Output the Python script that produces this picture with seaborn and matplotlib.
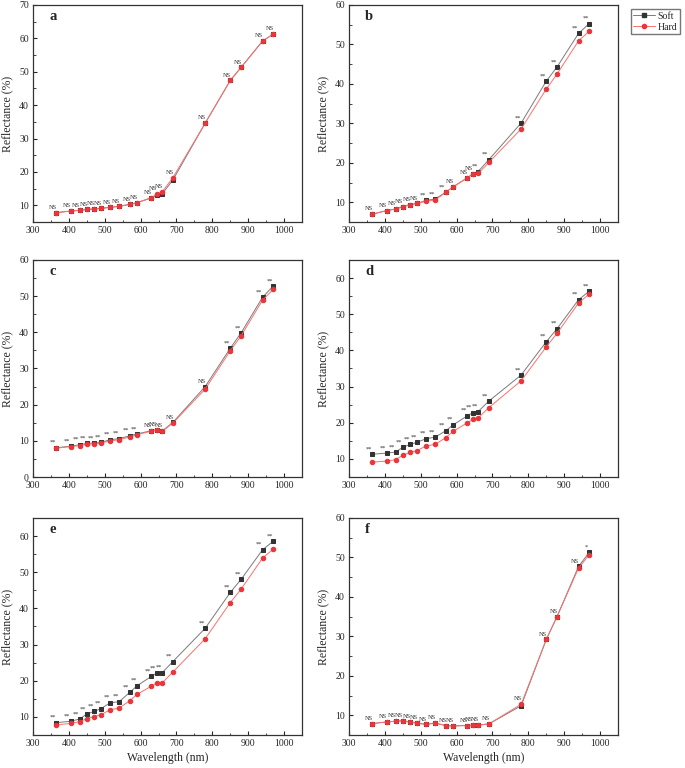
import numpy as np
import pandas as pd
import seaborn as sns
from matplotlib import pyplot as plt
from matplotlib.ticker import MultipleLocator
from matplotlib.lines import Line2D

sns.set_style("ticks")
plt.rcParams['font.family'] = ['Liberation Serif', 'DejaVu Serif']
plt.rcParams['xtick.direction'] = 'in'
plt.rcParams['ytick.direction'] = 'in'
plt.rcParams['axes.edgecolor'] = '#333333'

wavelength = [365, 405, 430, 450, 470, 490, 515, 540, 570, 590,
              630, 645, 660, 690, 780, 850, 880, 940, 970]

soft_a = [7.8, 8.3, 8.5, 8.8, 8.9, 9.1, 9.4, 9.7, 10.3, 10.8,
          12.2, 13.0, 13.4, 17.6, 34.6, 47.4, 51.3, 59.2, 61.3]
hard_a = [7.8, 8.3, 8.5, 8.8, 8.9, 9.1, 9.4, 9.7, 10.3, 10.8,
          12.3, 13.4, 14.0, 18.3, 34.6, 47.4, 51.3, 59.2, 61.3]
sig_a = ["NS"] * 19

soft_b = [7.0, 7.9, 8.3, 8.9, 9.4, 9.7, 10.5, 10.8, 12.6, 13.9,
          16.2, 17.2, 17.8, 20.8, 30.1, 40.7, 44.3, 52.8, 55.3]
hard_b = [7.0, 7.9, 8.3, 8.9, 9.4, 9.7, 10.3, 10.6, 12.5, 13.9,
          16.2, 17.2, 17.3, 20.1, 28.6, 38.7, 42.5, 50.9, 53.4]
sig_b = ["NS", "NS", "NS", "NS", "NS", "NS", "**", "**", "**", "NS",
         "NS", "NS", "**", "**", "**", "**", "**", "**", "**"]

soft_c = [8.1, 8.5, 8.9, 9.3, 9.4, 9.6, 10.3, 10.6, 11.4, 11.9,
          12.8, 13.1, 12.7, 15.1, 25.0, 35.6, 39.8, 49.7, 52.8]
hard_c = [8.0, 8.4, 8.7, 9.1, 9.2, 9.4, 10.0, 10.3, 11.1, 11.7,
          12.7, 13.0, 12.6, 14.9, 24.3, 34.9, 39.0, 48.9, 51.9]
sig_c = ["**"] * 10 + ["NS"] * 5 + ["**"] * 4

soft_d = [11.3, 11.6, 11.9, 13.2, 14.0, 14.6, 15.6, 16.0, 17.8, 19.4,
          21.9, 22.8, 23.1, 26.0, 33.2, 42.4, 46.0, 54.0, 56.4]
hard_d = [9.1, 9.4, 9.8, 11.0, 11.8, 12.3, 13.6, 14.0, 15.9, 17.6,
          20.0, 20.9, 21.3, 24.2, 31.6, 41.0, 44.7, 53.1, 55.6]
sig_d = ["**"] * 19

soft_e = [8.4, 8.8, 9.4, 10.8, 11.5, 12.3, 13.9, 14.2, 16.8, 18.6,
          21.2, 22.1, 22.2, 25.3, 34.5, 44.4, 48.0, 56.2, 58.6]
hard_e = [7.8, 8.2, 8.7, 9.5, 10.1, 10.6, 12.0, 12.4, 14.5, 16.2,
          18.5, 19.4, 19.4, 22.4, 31.6, 41.6, 45.3, 53.9, 56.4]
sig_e = ["**"] * 19

soft_f = [7.9, 8.3, 8.5, 8.6, 8.3, 8.0, 7.7, 8.0, 7.4, 7.3,
          7.4, 7.5, 7.5, 7.8, 12.4, 29.2, 35.0, 47.7, 51.3]
hard_f = [7.9, 8.3, 8.5, 8.6, 8.3, 8.0, 7.7, 8.0, 7.4, 7.3,
          7.4, 7.5, 7.5, 7.8, 12.8, 29.2, 35.0, 47.3, 50.7]
sig_f = ["NS"] * 18 + ["*"]

panels = [
    ("a", soft_a, hard_a, sig_a, (5, 70), np.arange(10, 71, 10)),
    ("b", soft_b, hard_b, sig_b, (5, 60), np.arange(10, 61, 10)),
    ("c", soft_c, hard_c, sig_c, (0, 60), np.arange(0, 61, 10)),
    ("d", soft_d, hard_d, sig_d, (5, 65), np.arange(10, 61, 10)),
    ("e", soft_e, hard_e, sig_e, (5, 65), np.arange(10, 61, 10)),
    ("f", soft_f, hard_f, sig_f, (5, 60), np.arange(10, 61, 10)),
]

soft_line, soft_mark = "#7a7a7a", "#333333"
hard_line, hard_mark = "#ff6f6f", "#e8363a"

fig = plt.figure(figsize=(6.85, 7.68), dpi=100)
lefts = [0.0482, 0.5095]
bottoms = [0.7109, 0.3789, 0.0430]
w, h = 0.3927, 0.2826

for i, (letter, soft, hard, sig, ylim, yticks) in enumerate(panels):
    ax = fig.add_axes([lefts[i % 2], bottoms[i // 2], w, h])
    df = pd.DataFrame({"Wavelength": wavelength * 2,
                       "Reflectance": soft + hard,
                       "Group": ["Soft"] * 19 + ["Hard"] * 19})
    sns.lineplot(data=df[df.Group == "Soft"], x="Wavelength", y="Reflectance",
                 color=soft_line, marker="s", markersize=3.2, linewidth=0.7,
                 markerfacecolor=soft_mark, markeredgecolor=soft_mark, ax=ax,
                 zorder=2)
    sns.lineplot(data=df[df.Group == "Hard"], x="Wavelength", y="Reflectance",
                 color=hard_line, marker="o", markersize=3.2, linewidth=0.7,
                 markerfacecolor=hard_mark, markeredgecolor=hard_mark, ax=ax,
                 zorder=3)
    for x, y, s in zip(wavelength, soft, sig):
        ax.annotate(s, (x, max(y, df[df.Wavelength == x].Reflectance.max())),
                    xytext=(-2.5, 2), textcoords="offset points",
                    ha="center", va="bottom", fontsize=4.6, color="#333333")
    ax.set_xlim(300, 1050)
    ax.set_ylim(*ylim)
    ax.set_xticks(range(300, 1001, 100))
    ax.set_yticks(yticks)
    ax.xaxis.set_minor_locator(MultipleLocator(50))
    ax.yaxis.set_minor_locator(MultipleLocator(5))
    ax.tick_params(which="major", length=3, width=0.8, labelsize=7, pad=3)
    ax.tick_params(which="minor", length=1.8, width=0.6)
    for sp in ax.spines.values():
        sp.set_visible(True)
        sp.set_linewidth(0.9)
    ax.set_ylabel("Reflectance (%)", fontsize=8.5, labelpad=4)
    if i >= 4:
        ax.set_xlabel("Wavelength (nm)", fontsize=8.5, labelpad=3)
    else:
        ax.set_xlabel("")
    ax.text(0.06, 0.945, letter, transform=ax.transAxes, fontsize=10.5,
            fontweight="bold", ha="left", va="center")

handles = [Line2D([], [], color=soft_line, lw=0.7, marker="s", markersize=3,
                  mfc=soft_mark, mec=soft_mark),
           Line2D([], [], color=hard_line, lw=0.7, marker="o", markersize=3,
                  mfc=hard_mark, mec=hard_mark)]
fig.legend(handles, ["Soft", "Hard"], loc="upper left",
           bbox_to_anchor=(0.921, 0.988), fontsize=7, frameon=True,
           fancybox=False, edgecolor="#555555", handlelength=2.2,
           borderpad=0.25, labelspacing=0.2, handletextpad=0.3,
           borderaxespad=0)

plt.savefig("out.png", dpi=100)
